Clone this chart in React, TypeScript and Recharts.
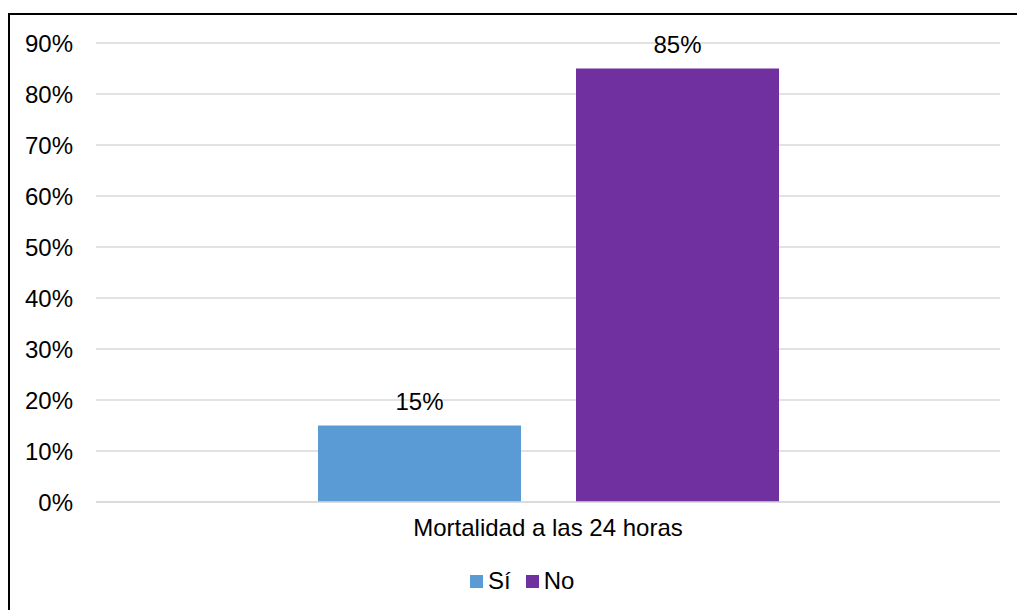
import { BarChart, Bar, XAxis, YAxis, CartesianGrid, LabelList } from 'recharts'

const categories = ['Mortalidad a las 24 horas']
const siValues = [15]
const noValues = [85]
const yTicks = [0, 10, 20, 30, 40, 50, 60, 70, 80, 90]

const series = [
  { key: 'si', label: 'Sí', color: '#5B9BD5' },
  { key: 'no', label: 'No', color: '#7030A0' },
]

const data = categories.map((name, i) => ({ name, si: siValues[i], no: noValues[i] }))

const font = 'Arial, "Liberation Sans", sans-serif'
const fontSize = 24
const pct = (v: number) => `${v}%`

export default function App() {
  return (
    <div
      style={{
        position: 'fixed',
        left: 0,
        top: 0,
        width: 1017,
        height: 610,
        overflow: 'hidden',
        background: '#fff',
        fontFamily: font,
      }}
    >
      {/* chart frame, cut off on the right and bottom */}
      <div
        style={{
          position: 'absolute',
          left: 8,
          top: 13,
          width: 1040,
          height: 640,
          border: '2px solid #000',
        }}
      />
      <div style={{ position: 'absolute', left: 0, top: 0 }}>
        <BarChart
          width={1017}
          height={610}
          data={data}
          margin={{ top: 43, right: 17, left: 0, bottom: 68 }}
          barGap={55}
        >
          <CartesianGrid vertical={false} stroke="#d9d9d9" strokeWidth={1.5} />
          <XAxis
            dataKey="name"
            height={40}
            axisLine={{ stroke: '#d9d9d9', strokeWidth: 1.5 }}
            tickLine={false}
            tickMargin={11}
            tick={{ fontSize, fill: '#000', fontFamily: font }}
          />
          <YAxis
            width={96}
            domain={[0, 90]}
            ticks={yTicks}
            tickFormatter={pct}
            axisLine={false}
            tickLine={false}
            tickMargin={17}
            tick={{ fontSize, fill: '#000', fontFamily: font }}
          />
          {series.map((s) => (
            <Bar key={s.key} dataKey={s.key} fill={s.color} barSize={203} isAnimationActive={false}>
              <LabelList
                dataKey={s.key}
                position="top"
                offset={16}
                formatter={(v: any) => pct(v)}
                style={{ fontSize, fill: '#000', fontFamily: font }}
              />
            </Bar>
          ))}
        </BarChart>
      </div>
      {/* legend */}
      <div
        style={{
          position: 'absolute',
          left: 470,
          top: 566,
          height: 30,
          display: 'flex',
          alignItems: 'center',
          fontSize,
          color: '#000',
        }}
      >
        {series.map((s) => (
          <div key={s.key} style={{ display: 'flex', alignItems: 'center', marginRight: 15 }}>
            <span style={{ width: 13, height: 13, background: s.color, marginRight: 5 }} />
            <span>{s.label}</span>
          </div>
        ))}
      </div>
    </div>
  )
}
